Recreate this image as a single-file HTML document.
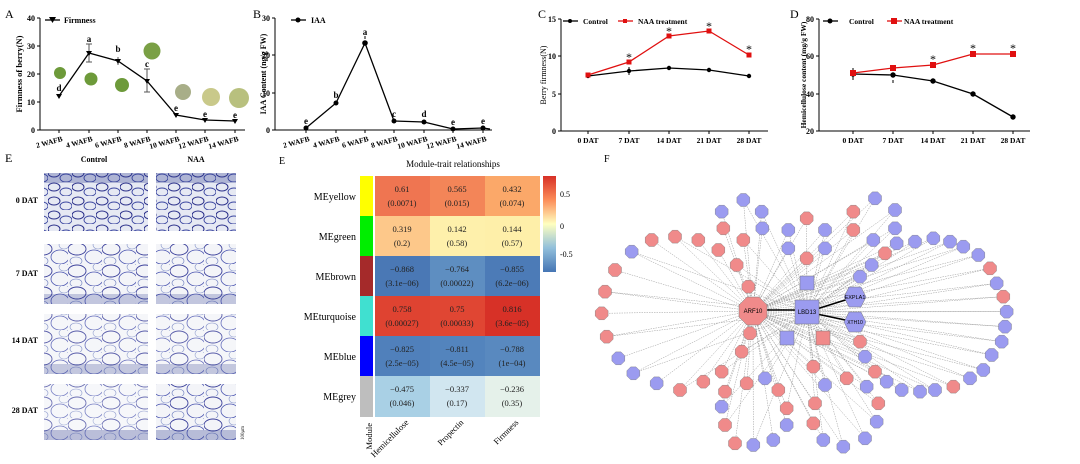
<!DOCTYPE html>
<html><head><meta charset="utf-8"><style>
html,body{margin:0;padding:0;background:#fff}
svg{display:block;font-family:"Liberation Serif",serif}
</style></head><body>
<svg id="s" width="1080" height="464" viewBox="0 0 1080 464" xmlns="http://www.w3.org/2000/svg">
<defs>
<pattern id="cells" width="34" height="22" patternUnits="userSpaceOnUse">
<rect width="34" height="22" fill="#f3f4f8"/>
<ellipse cx="9" cy="7" rx="9" ry="6" fill="none" stroke="#3a3f9a" stroke-width="0.9"/>
<ellipse cx="26" cy="15" rx="9" ry="7" fill="none" stroke="#4b55b0" stroke-width="0.8"/>
<ellipse cx="30" cy="3" rx="5" ry="4" fill="none" stroke="#8090c8" stroke-width="0.6"/>
<ellipse cx="8" cy="19" rx="6" ry="4" fill="none" stroke="#7080c0" stroke-width="0.6"/>
</pattern>
<pattern id="cells2" width="24" height="14" patternUnits="userSpaceOnUse">
<rect width="24" height="14" fill="#e6e9f3"/>
<ellipse cx="6" cy="5" rx="6" ry="4" fill="none" stroke="#2a2f8a" stroke-width="1"/>
<ellipse cx="18" cy="10" rx="6" ry="4" fill="none" stroke="#3a45a0" stroke-width="0.9"/>
</pattern>
</defs>
<g font-size="11">
<!-- Panel A -->
<text x="5" y="18" font-size="12">A</text>
<g stroke="#000" stroke-width="1" fill="none">
<path d="M40 18V130H245"/>
<path d="M37 18H40M37 46H40M37 74H40M37 102H40M37 130H40"/>
<path d="M59 130v3M89 130v3M118 130v3M147 130v3M176 130v3M205 130v3M235 130v3"/>
</g>
<g font-size="8" font-weight="bold" text-anchor="end"><text x="35" y="21">40</text><text x="35" y="49">30</text><text x="35" y="77">20</text><text x="35" y="105">10</text><text x="35" y="133">0</text></g>
<text transform="translate(22,74) rotate(-90)" font-size="8.5" font-weight="bold" text-anchor="middle">Firmness of berry(N)</text>
<g font-size="7.5" font-weight="bold" text-anchor="end">
<text transform="translate(63,141) rotate(-15)">2 WAFB</text><text transform="translate(93,141) rotate(-15)">4 WAFB</text><text transform="translate(122,141) rotate(-15)">6 WAFB</text><text transform="translate(151,141) rotate(-15)">8 WAFB</text><text transform="translate(180,141) rotate(-15)">10 WAFB</text><text transform="translate(209,141) rotate(-15)">12 WAFB</text><text transform="translate(239,141) rotate(-15)">14 WAFB</text></g>
<path d="M45 20H60" stroke="#000" stroke-width="1.3"/><path d="M49 17h7l-3.5 6z" fill="#000"/>
<text x="64" y="23" font-size="8" font-weight="bold">Firmness</text>
<g fill="#6d9a3a"><circle cx="60" cy="73" r="6"/><circle cx="91" cy="79" r="6.5"/><circle cx="122" cy="85" r="7"/><circle cx="152" cy="51" r="8.5" fill="#7aa045"/><circle cx="183" cy="92" r="8" fill="#a8ae88"/><circle cx="211" cy="97" r="9" fill="#c9c98a"/><circle cx="239" cy="98" r="10" fill="#b8c07e"/></g>
<g stroke="#555" stroke-width="1"><path d="M89 44v18M86 44h6M86 62h6M118 57v8M147 69v23M144 69h6M144 92h6"/></g>
<polyline points="59,96 89,53 118,61 147,81 176,115 205,120 235,121" fill="none" stroke="#000" stroke-width="1.3"/>
<g fill="#000"><path d="M56 94h6l-3 5zM86 51h6l-3 5zM115 59h6l-3 5zM144 79h6l-3 5zM173 113h6l-3 5zM202 118h6l-3 5zM232 119h6l-3 5z"/></g>
<g font-size="9" font-weight="bold" text-anchor="middle"><text x="59" y="91">d</text><text x="89" y="42">a</text><text x="118" y="52">b</text><text x="147" y="67">c</text><text x="176" y="111">e</text><text x="205" y="117">e</text><text x="235" y="118">e</text></g>

<!-- Panel B -->
<text x="253" y="18" font-size="12">B</text>
<g stroke="#000" stroke-width="1" fill="none">
<path d="M275 18V130H492"/>
<path d="M272 18H275M272 55H275M272 93H275M272 130H275"/>
<path d="M306 130v3M336 130v3M365 130v3M394 130v3M424 130v3M453 130v3M483 130v3"/>
</g>
<g font-size="8" font-weight="bold" text-anchor="end"><text x="270" y="21">30</text><text x="270" y="58">20</text><text x="270" y="96">10</text><text x="270" y="133">0</text></g>
<text transform="translate(266,74) rotate(-90)" font-size="8" font-weight="bold" text-anchor="middle">IAA Content (ng/g  FW)</text>
<g font-size="7.5" font-weight="bold" text-anchor="end">
<text transform="translate(310,141) rotate(-15)">2 WAFB</text><text transform="translate(340,141) rotate(-15)">4 WAFB</text><text transform="translate(369,141) rotate(-15)">6 WAFB</text><text transform="translate(398,141) rotate(-15)">8 WAFB</text><text transform="translate(428,141) rotate(-15)">10 WAFB</text><text transform="translate(457,141) rotate(-15)">12 WAFB</text><text transform="translate(487,141) rotate(-15)">14 WAFB</text></g>
<path d="M291 20H306" stroke="#000" stroke-width="1.3"/><circle cx="298" cy="20" r="2.5"/>
<text x="311" y="23" font-size="8" font-weight="bold">IAA</text>
<polyline points="306,128 336,103 365,43 394,121 424,122 453,129 483,128 490,129" fill="none" stroke="#000" stroke-width="1.3"/>
<g fill="#000"><circle cx="306" cy="128" r="2.5"/><circle cx="336" cy="103" r="2.5"/><circle cx="365" cy="43" r="2.8"/><circle cx="394" cy="121" r="2.5"/><circle cx="424" cy="122" r="2.5"/><circle cx="453" cy="129" r="2.5"/><circle cx="483" cy="128" r="2.5"/></g>
<path d="M365 39v-3" stroke="#000"/>
<g font-size="9" font-weight="bold" text-anchor="middle"><text x="306" y="124">e</text><text x="336" y="98">b</text><text x="365" y="35">a</text><text x="394" y="117">c</text><text x="424" y="117">d</text><text x="453" y="125">e</text><text x="483" y="124">e</text></g>

<!-- Panel C -->
<text x="538" y="18" font-size="12">C</text>
<g stroke="#000" stroke-width="1" fill="none">
<path d="M561 19V131H768"/>
<path d="M558 19H561M558 56H561M558 94H561M558 131H561"/>
<path d="M588 131v3M629 131v3M669 131v3M709 131v3M749 131v3"/>
</g>
<g font-size="8" font-weight="bold" text-anchor="end"><text x="556" y="22">15</text><text x="556" y="59">10</text><text x="556" y="97">5</text><text x="556" y="134">0</text></g>
<text transform="translate(546,75) rotate(-90)" font-size="8" text-anchor="middle">Berry firmness(N)</text>
<g font-size="7.5" font-weight="bold" text-anchor="middle"><text x="588" y="143">0 DAT</text><text x="629" y="143">7 DAT</text><text x="669" y="143">14 DAT</text><text x="709" y="143">21 DAT</text><text x="749" y="143">28 DAT</text></g>
<path d="M563 21H578" stroke="#000" stroke-width="1.3"/><circle cx="570" cy="21" r="2"/>
<text x="583" y="24" font-size="7.5" font-weight="bold">Control</text>
<path d="M618 21H633" stroke="#e01010" stroke-width="1.3"/><rect x="623" y="19" width="4" height="4" fill="#e01010"/>
<text x="638" y="24" font-size="7.5" font-weight="bold">NAA treatment</text>
<polyline points="588,76 629,71 669,68 709,70 749,76" fill="none" stroke="#000" stroke-width="1.3"/>
<g fill="#000"><circle cx="588" cy="76" r="2.2"/><circle cx="629" cy="71" r="2.2"/><circle cx="669" cy="68" r="2.2"/><circle cx="709" cy="70" r="2.2"/><circle cx="749" cy="76" r="2.2"/></g>
<path d="M629 67v8" stroke="#000"/>
<polyline points="588,75 629,62 669,36 709,31 749,55" fill="none" stroke="#e01010" stroke-width="1.3"/>
<g fill="#e01010"><rect x="585.5" y="72.5" width="5" height="5"/><rect x="626.5" y="59.5" width="5" height="5"/><rect x="666.5" y="33.5" width="5" height="5"/><rect x="706.5" y="28.5" width="5" height="5"/><rect x="746.5" y="52.5" width="5" height="5"/></g>
<g font-size="12" text-anchor="middle"><text x="629" y="61">*</text><text x="669" y="35">*</text><text x="709" y="30">*</text><text x="749" y="53">*</text></g>

<!-- Panel D -->
<text x="790" y="18" font-size="12">D</text>
<g stroke="#000" stroke-width="1" fill="none">
<path d="M819 19V131H1030"/>
<path d="M816 19H819M816 56H819M816 94H819M816 131H819"/>
<path d="M853 131v3M893 131v3M933 131v3M973 131v3M1013 131v3"/>
</g>
<g font-size="8" font-weight="bold" text-anchor="end"><text x="814" y="22">80</text><text x="814" y="59">60</text><text x="814" y="97">40</text><text x="814" y="134">20</text></g>
<text transform="translate(806,75) rotate(-90)" font-size="7.5" font-weight="bold" text-anchor="middle">Hemicellulose content (mg/g  FW)</text>
<g font-size="7.5" font-weight="bold" text-anchor="middle"><text x="853" y="143">0 DAT</text><text x="893" y="143">7 DAT</text><text x="933" y="143">14 DAT</text><text x="973" y="143">21 DAT</text><text x="1013" y="143">28 DAT</text></g>
<path d="M823 21H838" stroke="#000" stroke-width="1.3"/><circle cx="830" cy="21" r="2.5"/>
<text x="849" y="24" font-size="7.5" font-weight="bold">Control</text>
<path d="M887 21H902" stroke="#e01010" stroke-width="1.3"/><rect x="891" y="18" width="6" height="6" fill="#e01010"/>
<text x="904" y="24" font-size="7.5" font-weight="bold">NAA treatment</text>
<polyline points="853,74 893,75 933,81 973,94 1013,117" fill="none" stroke="#000" stroke-width="1.3"/>
<g fill="#000"><circle cx="853" cy="74" r="2.7"/><circle cx="893" cy="75" r="2.7"/><circle cx="933" cy="81" r="2.7"/><circle cx="973" cy="94" r="2.7"/><circle cx="1013" cy="117" r="2.7"/></g>
<path d="M853 68v12M893 80v3" stroke="#000"/>
<polyline points="853,73 893,68 933,65 973,54 1013,54" fill="none" stroke="#e01010" stroke-width="1.3"/>
<g fill="#e01010"><rect x="850" y="70" width="6" height="6"/><rect x="890" y="65" width="6" height="6"/><rect x="930" y="62" width="6" height="6"/><rect x="970" y="51" width="6" height="6"/><rect x="1010" y="51" width="6" height="6"/></g>
<g font-size="12" text-anchor="middle"><text x="933" y="63">*</text><text x="973" y="52">*</text><text x="1013" y="52">*</text></g>

<!-- Panel E left micrographs -->
<text x="5" y="162" font-size="12">E</text>
<text x="94" y="162" font-size="8" font-weight="bold" text-anchor="middle">Control</text>
<text x="196" y="162" font-size="8" font-weight="bold" text-anchor="middle">NAA</text>
<g font-size="8" font-weight="bold" text-anchor="end"><text x="38" y="203">0 DAT</text><text x="38" y="276">7 DAT</text><text x="38" y="343">14 DAT</text><text x="38" y="413">28 DAT</text></g>
<g>
<rect x="44" y="173" width="104" height="58" fill="url(#cells2)"/><rect x="156" y="173" width="80" height="58" fill="url(#cells2)"/>
<rect x="44" y="244" width="104" height="60" fill="url(#cells)"/><rect x="156" y="244" width="80" height="60" fill="url(#cells)"/>
<rect x="44" y="314" width="104" height="60" fill="url(#cells)" opacity="0.85"/><rect x="156" y="314" width="80" height="60" fill="url(#cells)" opacity="0.85"/>
<rect x="44" y="384" width="104" height="56" fill="url(#cells)" opacity="0.75"/><rect x="156" y="384" width="80" height="56" fill="url(#cells)"/>
<rect x="44" y="173" width="104" height="10" fill="#2f3a90" opacity="0.3"/><rect x="156" y="173" width="80" height="10" fill="#2f3a90" opacity="0.3"/>
<rect x="44" y="294" width="104" height="10" fill="#2f3a90" opacity="0.25"/><rect x="156" y="294" width="80" height="10" fill="#2f3a90" opacity="0.25"/>
<rect x="44" y="364" width="104" height="10" fill="#2f3a90" opacity="0.25"/><rect x="156" y="364" width="80" height="10" fill="#2f3a90" opacity="0.25"/>
<rect x="44" y="430" width="104" height="10" fill="#2f3a90" opacity="0.3"/><rect x="156" y="430" width="80" height="10" fill="#2f3a90" opacity="0.3"/>
</g>
<text transform="translate(244,440) rotate(-90)" font-size="5">100μm</text>

<!-- Heatmap -->
<text x="279" y="164" font-size="10">E</text>
<text x="453" y="167" font-size="9" text-anchor="middle">Module-trait relationships</text>
<g>
<rect x="360" y="176" width="13" height="40" fill="#ffff00"/>
<rect x="360" y="216" width="13" height="40" fill="#00ee00"/>
<rect x="360" y="256" width="13" height="40" fill="#a52a2a"/>
<rect x="360" y="296" width="13" height="40" fill="#40e0d0"/>
<rect x="360" y="336" width="13" height="40" fill="#0000ff"/>
<rect x="360" y="376" width="13" height="41" fill="#bebebe"/>
</g>
<g>
<rect x="375" y="176" width="55" height="40" fill="#ef7551"/><rect x="430" y="176" width="55" height="40" fill="#f38558"/><rect x="485" y="176" width="55" height="40" fill="#fba869"/>
<rect x="375" y="216" width="55" height="40" fill="#fdc88a"/><rect x="430" y="216" width="55" height="40" fill="#fef0ab"/><rect x="485" y="216" width="55" height="40" fill="#feefa9"/>
<rect x="375" y="256" width="55" height="40" fill="#4a78b5"/><rect x="430" y="256" width="55" height="40" fill="#5e8ec1"/><rect x="485" y="256" width="55" height="40" fill="#4c7bb7"/>
<rect x="375" y="296" width="55" height="40" fill="#df4331"/><rect x="430" y="296" width="55" height="40" fill="#e04633"/><rect x="485" y="296" width="55" height="40" fill="#d73127"/>
<rect x="375" y="336" width="55" height="40" fill="#5080bb"/><rect x="430" y="336" width="55" height="40" fill="#5384bd"/><rect x="485" y="336" width="55" height="40" fill="#5989bf"/>
<rect x="375" y="376" width="55" height="41" fill="#a9d0e5"/><rect x="430" y="376" width="55" height="41" fill="#d1e6f0"/><rect x="485" y="376" width="55" height="41" fill="#e5f1ea"/>
</g>
<g font-size="8.5" text-anchor="middle" fill="#222">
<text x="402" y="192">0.61</text><text x="402" y="206">(0.0071)</text><text x="457" y="192">0.565</text><text x="457" y="206">(0.015)</text><text x="512" y="192">0.432</text><text x="512" y="206">(0.074)</text>
<text x="402" y="232">0.319</text><text x="402" y="246">(0.2)</text><text x="457" y="232">0.142</text><text x="457" y="246">(0.58)</text><text x="512" y="232">0.144</text><text x="512" y="246">(0.57)</text>
<text x="402" y="272">−0.868</text><text x="402" y="286">(3.1e−06)</text><text x="457" y="272">−0.764</text><text x="457" y="286">(0.00022)</text><text x="512" y="272">−0.855</text><text x="512" y="286">(6.2e−06)</text>
<text x="402" y="312">0.758</text><text x="402" y="326">(0.00027)</text><text x="457" y="312">0.75</text><text x="457" y="326">(0.00033)</text><text x="512" y="312">0.816</text><text x="512" y="326">(3.6e−05)</text>
<text x="402" y="352">−0.825</text><text x="402" y="366">(2.5e−05)</text><text x="457" y="352">−0.811</text><text x="457" y="366">(4.5e−05)</text><text x="512" y="352">−0.788</text><text x="512" y="366">(1e−04)</text>
<text x="402" y="392">−0.475</text><text x="402" y="406">(0.046)</text><text x="457" y="392">−0.337</text><text x="457" y="406">(0.17)</text><text x="512" y="392">−0.236</text><text x="512" y="406">(0.35)</text>
</g>
<g font-size="10" text-anchor="end"><text x="356" y="200">MEyellow</text><text x="356" y="240">MEgreen</text><text x="356" y="280">MEbrown</text><text x="356" y="320">MEturquoise</text><text x="356" y="360">MEblue</text><text x="356" y="400">MEgrey</text></g>
<linearGradient id="cb" x1="0" y1="0" x2="0" y2="1"><stop offset="0" stop-color="#d73027"/><stop offset="0.25" stop-color="#fc8d59"/><stop offset="0.5" stop-color="#ffffbf"/><stop offset="0.75" stop-color="#91bfdb"/><stop offset="1" stop-color="#4575b4"/></linearGradient>
<rect x="543" y="176" width="13" height="96" fill="url(#cb)"/>
<g font-size="8"><text x="560" y="197">0.5</text><text x="560" y="229">0</text><text x="560" y="257">-0.5</text></g>
<g font-size="8.5" text-anchor="end">
<text transform="translate(372,423) rotate(-90)">Module</text>
<text transform="translate(409,423) rotate(-45)">Hemicellulose</text>
<text transform="translate(464,423) rotate(-45)">Propectin</text>
<text transform="translate(519,423) rotate(-45)">Firmness</text>
</g>

<!-- Panel F -->
<text x="604" y="162" font-size="10">F</text>
<g id="edges" stroke="#999" stroke-width="0.5" stroke-dasharray="1.5,1"></g>
<g stroke="#000" stroke-width="1.6"><path d="M753 310H807M807 312L855 297M807 312L855 322"/></g>
<g id="nodes"></g>
<g>
<polygon points="747,297 759,297 767,305 767,317 759,325 747,325 739,317 739,305" fill="#f08a8a" stroke="#777" stroke-width="0.5"/>
<text x="753" y="313" font-size="6" text-anchor="middle" font-family="Liberation Sans,sans-serif">ARF10</text>
<rect x="795" y="300" width="24" height="24" fill="#9b9bf0" stroke="#777" stroke-width="0.5"/>
<text x="807" y="314" font-size="6" text-anchor="middle" font-family="Liberation Sans,sans-serif">LBD13</text>
<polygon points="849,287 861,287 866,297 861,307 849,307 844,297" fill="#9b9bf0" stroke="#777" stroke-width="0.5"/>
<text x="855" y="299" font-size="5.5" text-anchor="middle" font-family="Liberation Sans,sans-serif">EXPLA1</text>
<polygon points="849,312 861,312 866,322 861,332 849,332 844,322" fill="#9b9bf0" stroke="#777" stroke-width="0.5"/>
<text x="855" y="324" font-size="5" text-anchor="middle" font-family="Liberation Sans,sans-serif">XTH10</text>
<rect x="800" y="276" width="14" height="14" fill="#9b9bf0" stroke="#777" stroke-width="0.5"/>
<rect x="780" y="331" width="14" height="14" fill="#9b9bf0" stroke="#777" stroke-width="0.5"/>
<rect x="816" y="331" width="14" height="14" fill="#f08a8a" stroke="#777" stroke-width="0.5"/>
</g>
</g>
<script>
var z="b430,30 b365,65 b485,65 b825,25 p760,65 b885,60 p620,85 p370,115 p430,150 b487,115 b565,120 b675,120 p760,120 b820,150 b885,115 p155,150 p225,140 p295,150 b95,185 p355,180 b565,175 b675,175 p620,205 p855,190 b890,160 b945,155 b1000,145 b1050,155 b1090,170 b1135,195 p1170,235 b1190,280 p1210,320 b1220,365 b1215,410 b1205,455 b1175,495 b1150,540 b1110,565 p1060,590 b1005,600 b960,605 b905,600 b860,575 p825,545 b795,500 p780,455 b815,225 b780,260 p45,240 p15,305 p5,370 p20,440 b55,505 b100,550 b170,580 p240,600 p310,575 p365,545 p440,580 b495,565 p375,605 p425,485 p450,430 p410,225 p445,290 b365,650 p535,600 p560,655 b560,705 p375,705 p405,760 b460,765 b520,750 p640,530 b675,585 p645,640 p640,700 b670,750 b730,770 b795,745 b830,695 p835,640 b800,590 p740,565".split(" ");
var ns="http://www.w3.org/2000/svg",E=document.getElementById("edges"),N=document.getElementById("nodes");
function el(t,a,p){var e=document.createElementNS(ns,t);for(var k in a)e.setAttribute(k,a[k]);p.appendChild(e);return e;}
z.forEach(function(s,i){var c=s[0],xy=s.slice(1).split(","),x=600+xy[0]/3,y=190+xy[1]/3;
el("line",{x1:753,y1:311,x2:x,y2:y},E);if(i%2==0||x>820)el("line",{x1:807,y1:312,x2:x,y2:y},E);
var r=7,pts=[];for(var k=0;k<8;k++){var a=Math.PI/8+k*Math.PI/4;pts.push((x+r*Math.cos(a)).toFixed(1)+","+(y+r*Math.sin(a)).toFixed(1));}
el("polygon",{points:pts.join(" "),fill:c=="p"?"#f08a8a":"#9b9bf0",stroke:"#777","stroke-width":0.4},N);});
</script>
</svg>
</body></html>
